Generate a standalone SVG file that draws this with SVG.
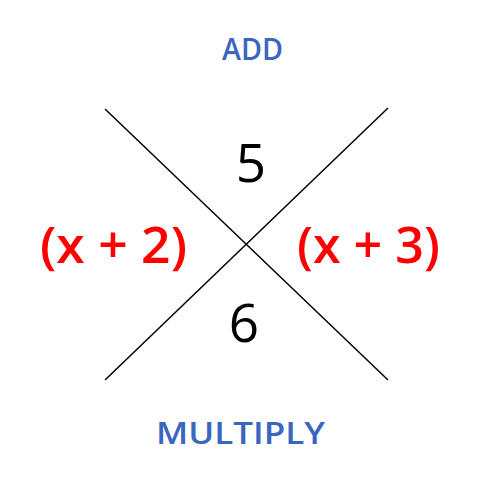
<svg xmlns="http://www.w3.org/2000/svg" width="480" height="484" viewBox="0 0 480 484">
<style>
.lbl{font-family:"Open Sans","Liberation Sans",sans-serif;font-size:31px;font-weight:600;fill:#3A66C0;text-anchor:middle}
.num{font-family:"Open Sans","Liberation Sans",sans-serif;font-size:53px;font-weight:500;fill:#000;text-anchor:middle}
.fac{font-family:"Open Sans","Liberation Sans",sans-serif;font-size:51px;font-weight:600;fill:#FF0000;text-anchor:middle}
.ln{stroke:#000;stroke-width:1.5;fill:none}
</style>
<rect width="480" height="484" fill="#fff"/>
<g id="connectors">
<line class="ln" x1="105" y1="109" x2="388" y2="380"/>
<line class="ln" x1="388" y1="108" x2="105" y2="380"/>
</g>
<g id="add"><text class="lbl" x="252.5" y="60" textLength="61" lengthAdjust="spacingAndGlyphs">ADD</text></g>
<g id="sum"><text class="num" x="251" y="182">5</text></g>
<g id="factor1"><text class="fac" x="113.5" y="263" textLength="147" lengthAdjust="spacingAndGlyphs">(x + 2)</text></g>
<g id="factor2"><text class="fac" x="368.5" y="263" textLength="143" lengthAdjust="spacingAndGlyphs">(x + 3)</text></g>
<g id="product"><text class="num" x="244" y="342">6</text></g>
<g id="multiply"><text class="lbl" x="240.5" y="444" textLength="169" lengthAdjust="spacingAndGlyphs">MULTIPLY</text></g>
</svg>
